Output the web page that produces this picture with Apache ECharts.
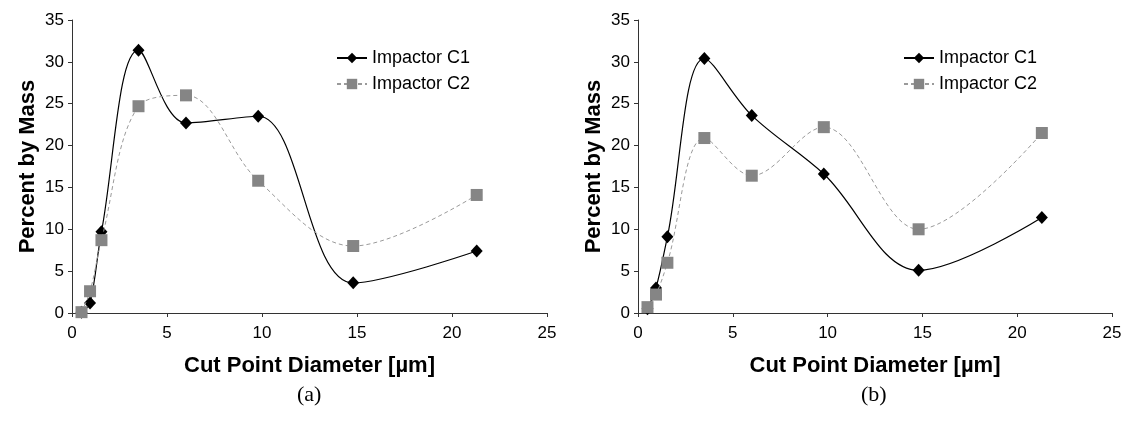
<!DOCTYPE html>
<html>
<head>
<meta charset="utf-8">
<script src="https://cdn.jsdelivr.net/npm/echarts@6/dist/echarts.min.js"></script>
<style>
html,body{margin:0;padding:0;background:#fff;}
#c{width:1127px;height:421px;}
</style>
</head>
<body>
<div id="c"></div>
<script>
// Cut point diameters (µm)
const cutPoints = [0.5, 0.95, 1.55, 3.5, 6.0, 9.8, 14.8, 21.3];
// Panel (a)
const c1a = [0.1, 1.2, 9.7, 31.4, 22.7, 23.5, 3.6, 7.4];
const c2a = [0.1, 2.6, 8.7, 24.7, 26.0, 15.8, 8.0, 14.1];
// Panel (b)
const c1b = [0.5, 3.0, 9.1, 30.4, 23.6, 16.6, 5.1, 11.4];
const c2b = [0.7, 2.2, 6.0, 20.9, 16.4, 22.2, 10.0, 21.5];
const seriesNames = ['Impactor C1', 'Impactor C2'];
const xTicks = {min: 0, max: 25, interval: 5};
const yTicks = {min: 0, max: 35, interval: 5};
const captions = ['(a)', '(b)'];

const pair = (xs, ys) => xs.map((x, i) => [x, ys[i]]);
const font = 'Liberation Sans, Arial, sans-serif';

const chart = echarts.init(document.getElementById('c'), null, {renderer: 'canvas'});

function xAxis(gi) {
  return {
    type: 'value', gridIndex: gi, min: xTicks.min, max: xTicks.max, interval: xTicks.interval,
    name: 'Cut Point Diameter [µm]', nameLocation: 'middle', nameGap: 42,
    nameTextStyle: {fontFamily: font, fontWeight: 'bold', fontSize: 22, color: '#000'},
    axisLine: {show: true, onZero: false, lineStyle: {color: '#333', width: 1}},
    axisTick: {show: true, inside: false, length: 4, lineStyle: {color: '#333'}},
    axisLabel: {fontFamily: font, fontSize: 17, color: '#000', margin: 12},
    splitLine: {show: false}
  };
}
function yAxis(gi) {
  return {
    type: 'value', gridIndex: gi, min: yTicks.min, max: yTicks.max, interval: yTicks.interval,
    name: 'Percent by Mass', nameLocation: 'middle', nameGap: 33, nameRotate: 90,
    nameTextStyle: {fontFamily: font, fontWeight: 'bold', fontSize: 22, color: '#000'},
    axisLine: {show: true, onZero: false, lineStyle: {color: '#333', width: 1}},
    axisTick: {show: true, inside: false, length: 4, lineStyle: {color: '#333'}},
    axisLabel: {fontFamily: font, fontSize: 17, color: '#000', margin: 8},
    splitLine: {show: false}
  };
}
function c1Series(gi, ys) {
  return {
    name: seriesNames[0], type: 'line', xAxisIndex: gi, yAxisIndex: gi,
    data: pair(cutPoints, ys), smooth: 0.35,
    symbol: 'diamond', symbolSize: [12, 13],
    itemStyle: {color: '#000'},
    lineStyle: {color: '#000', width: 1.2},
    z: 2
  };
}
function c2Series(gi, ys) {
  return {
    name: seriesNames[1], type: 'line', xAxisIndex: gi, yAxisIndex: gi,
    data: pair(cutPoints, ys), smooth: 0.35,
    symbol: 'rect', symbolSize: 12,
    itemStyle: {color: '#858585'},
    lineStyle: {color: '#9a9a9a', width: 1, type: [4, 3]},
    z: 3
  };
}
function legend(left) {
  return {
    data: seriesNames, orient: 'vertical', left: left, top: 44,
    itemWidth: 30, itemHeight: 13, itemGap: 8,
    textStyle: {fontFamily: font, fontSize: 18, color: '#000'},
    selectedMode: false
  };
}

chart.setOption({
  animation: false,
  backgroundColor: '#fff',
  grid: [
    {left: 72, top: 20, width: 475, height: 293, containLabel: false},
    {left: 638, top: 20, width: 474, height: 293, containLabel: false}
  ],
  xAxis: [xAxis(0), xAxis(1)],
  yAxis: [yAxis(0), yAxis(1)],
  legend: [legend(331), legend(898)],
  series: [c1Series(0, c1a), c2Series(0, c2a), c1Series(1, c1b), c2Series(1, c2b)],
  graphic: [
    {type: 'text', left: 310 - 13, top: 384, style: {text: captions[0], font: '22px "Liberation Serif", "Times New Roman", serif', fill: '#000'}},
    {type: 'text', left: 874 - 13, top: 384, style: {text: captions[1], font: '22px "Liberation Serif", "Times New Roman", serif', fill: '#000'}}
  ]
});
</script>
</body>
</html>
